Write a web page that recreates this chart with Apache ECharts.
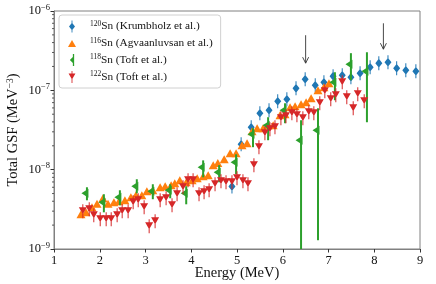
<!DOCTYPE html>
<html><head><meta charset="utf-8">
<script src="https://cdn.jsdelivr.net/npm/echarts@6/dist/echarts.min.js"></script>
<style>html,body{margin:0;padding:0;background:#fff}#c{width:436px;height:284px}</style>
</head><body><div id="c"></div>
<script>
// ---- data ----
const isotopes = ['120', '116', '118', '122'];
const refs = ['Krumbholz et al.', 'Agvaanluvsan et al.', 'Toft et al.', 'Toft et al.'];
const seriesNames = isotopes.map((iso, i) => iso + 'Sn (' + refs[i] + ')');

const sn120E = [4.89,5.09,5.31,5.50,5.70,5.89,6.09,6.29,6.49,6.71,6.90,7.10,7.30,7.49,7.69,7.91,8.10,8.30,8.49,8.69,8.91];
const sn120V = [6.15e-9,2.09e-8,3.43e-8,5.14e-8,5.62e-8,7.28e-8,7.72e-8,1.06e-7,1.38e-7,1.16e-7,1.26e-7,1.51e-7,1.55e-7,1.46e-7,1.64e-7,1.95e-7,2.20e-7,2.26e-7,1.90e-7,1.79e-7,1.74e-7];

const sn116E = [1.59,1.70,1.83,1.94,2.07,2.18,2.31,2.42,2.55,2.68,2.79,2.92,3.03,3.16,3.32,3.43,3.56,3.64,3.75,3.89,4.02,4.13,4.26,4.37,4.48,4.58,4.72,4.85,4.98,5.11,5.22,5.33,5.44,5.57,5.68,5.79,5.94,6.05,6.16,6.27,6.40,6.51,6.62,6.77,6.90,7.01];
const sn116V = [2.74e-9,2.90e-9,3.36e-9,3.72e-9,4.36e-9,3.72e-9,3.88e-9,4.0e-9,4.11e-9,4.49e-9,4.76e-9,4.76e-9,5.34e-9,5.5e-9,6.0e-9,6.18e-9,6.36e-9,6.74e-9,7.35e-9,6.94e-9,7.35e-9,7.79e-9,8.26e-9,8.5e-9,1.14e-8,1.21e-8,1.35e-8,1.61e-8,1.61e-8,2.03e-8,2.15e-8,3.05e-8,3.33e-8,3.33e-8,3.63e-8,3.63e-8,4.85e-8,5.0e-8,6.12e-8,6.3e-8,6.68e-8,7.1e-8,7.96e-8,1.0e-7,1.09e-7,1.23e-7];

const sn118E  = [1.72,2.09,2.44,2.81,3.16,3.54,3.89,4.26,4.61,4.98,5.35,5.68,6.05,6.40,6.77,7.14,7.49,7.84];
const sn118V  = [5.04e-9,3.88e-9,4.49e-9,6.18e-9,5.34e-9,5.50e-9,5.04e-9,1.07e-8,9.27e-9,1.24e-8,2.79e-8,3.63e-8,5.62e-8,2.35e-8,3.14e-8,1.26e-7,2.13e-7,1.74e-7];
const sn118Lo = [4.11e-9,2.90e-9,3.56e-9,5.04e-9,4.24e-9,4.36e-9,3.66e-9,8.02e-9,6.94e-9,8.75e-9,1.92e-8,2.35e-8,3.85e-8,1e-10,1.29e-9,7.50e-8,1.34e-7,3.96e-8];
const sn118Hi = [6.0e-9,4.90e-9,5.50e-9,7.57e-9,6.55e-9,6.55e-9,6.18e-9,1.31e-8,1.14e-8,1.56e-8,3.33e-8,4.58e-8,6.87e-8,4.20e-8,5.94e-8,1.69e-7,2.94e-7,3.02e-7];

const sn122E = [1.63,1.77,1.87,2.01,2.14,2.25,2.38,2.49,2.62,2.73,2.84,2.97,3.08,3.21,3.32,3.45,3.58,3.69,3.82,3.93,4.04,4.17,4.28,4.39,4.52,4.65,4.76,4.89,5.00,5.13,5.24,5.37,5.48,5.61,5.72,5.83,5.96,6.07,6.20,6.31,6.44,6.57,6.68,6.81,6.92,7.05,7.16,7.30,7.40,7.54,7.64,7.78];
const sn122V = [2.99e-9,3.17e-9,2.66e-9,2.37e-9,2.37e-9,2.37e-9,2.66e-9,2.99e-9,2.99e-9,3.88e-9,4.11e-9,3.36e-9,1.93e-9,2.23e-9,4.11e-9,4.36e-9,3.56e-9,4.90e-9,6.0e-9,7.35e-9,7.35e-9,4.90e-9,5.19e-9,5.50e-9,6.55e-9,7.14e-9,6.94e-9,6.94e-9,7.79e-9,7.14e-9,6.55e-9,1.14e-8,1.92e-8,2.88e-8,3.23e-8,3.43e-8,4.45e-8,4.72e-8,5.14e-8,4.85e-8,4.45e-8,5.30e-8,5.14e-8,6.87e-8,9.75e-8,7.72e-8,8.67e-8,1.26e-7,8.19e-8,5.94e-8,8.93e-8,7.28e-8];

// annotation arrows: [energy, y start, y end]
const arrowE = [6.5, 8.2];
const arrowFrom = [4.95e-7, 7.0e-7];
const arrowTo = [2.2e-7, 3.3e-7];

const xTicks = [1,2,3,4,5,6,7,8,9];
const yMinorTicks = [2e-9,3e-9,4e-9,5e-9,6e-9,7e-9,8e-9,9e-9,2e-8,3e-8,4e-8,5e-8,6e-8,7e-8,8e-8,9e-8,2e-7,3e-7,4e-7,5e-7,6e-7,7e-7,8e-7,9e-7];

// ---- styles ----
const FONT = '"Liberation Serif", "DejaVu Serif", serif';
const C = ['#1f77b4', '#ff7f0e', '#2ca02c', '#d62728'];
const SYM_DIAMOND = 'path://M3,0 H4 V3.2 L7,7 L4,10.8 V14 H3 V10.8 L0,7 L3,3.2 Z';
const SYM_TRI_DOWN = 'path://M3.5,0 H4.5 V3 H8 L4.5,9.1 V14 H3.5 V9.1 L0,3 H3.5 Z';
const SYM_TRI_UP = 'triangle';
const SYM_TRI_LEFT = 'path://M0,5 L7,1 L7,9 Z';
const SYM_118_LEG = 'path://M3.5,0 H5 V14 H3.5 V10.5 L0,7 L3.5,3.5 Z';
const SYM_116_LEG = 'path://M4,0 L8,7 L0,7 Z';

const chart = echarts.init(document.getElementById('c'), null, {renderer: 'canvas'});

const option = {
  animation: false,
  backgroundColor: '#fff',
  grid: {left: 54, right: 16, top: 11, bottom: 35, show: true, borderColor: '#808080', borderWidth: 1,
         containLabel: false, outerBoundsMode: 'none'},
  legend: {
    orient: 'vertical', left: 59, top: 15,
    padding: [5, 8, 5, 9], itemGap: 4.5, itemWidth: 8, itemHeight: 12,
    backgroundColor: 'rgba(255,255,255,0.8)', borderColor: '#d0d0d0', borderWidth: 1, borderRadius: 3,
    data: [
      {name: seriesNames[0], icon: SYM_DIAMOND},
      {name: seriesNames[1], icon: SYM_116_LEG},
      {name: seriesNames[2], icon: SYM_118_LEG},
      {name: seriesNames[3], icon: SYM_TRI_DOWN}
    ],
    formatter: function (name) {
      const i = seriesNames.indexOf(name);
      return '{sup|' + isotopes[i] + '}{txt|Sn (' + refs[i] + ')}';
    },
    textStyle: {
      fontFamily: FONT, color: '#111', padding: [0, 0, 0, 9],
      rich: {
        sup: {fontFamily: FONT, fontSize: 7.5, color: '#111', padding: [0, 0, 5, 0]},
        txt: {fontFamily: FONT, fontSize: 11.3, color: '#111'}
      }
    }
  },
  xAxis: {
    type: 'value', min: 1, max: 9, interval: 1,
    name: 'Energy (MeV)', nameLocation: 'middle', nameGap: 17, nameMoveOverlap: false,
    nameTextStyle: {fontFamily: FONT, fontSize: 14.5, color: '#111'},
    axisLine: {show: true, lineStyle: {color: '#808080', width: 1}},
    axisTick: {show: true, inside: false, length: 3.5, lineStyle: {color: '#333'}},
    axisLabel: {fontFamily: FONT, fontSize: 12.5, color: '#111', margin: 5,
      formatter: v => xTicks.indexOf(v) >= 0 ? String(v) : ''},
    splitLine: {show: false}
  },
  yAxis: {
    type: 'log', logBase: 10, min: 1e-9, max: 1e-6,
    name: '{t|Total GSF (MeV}{s|−3}{t|)}', nameLocation: 'middle', nameGap: 32, nameRotate: 90, nameMoveOverlap: false,
    nameTextStyle: {fontFamily: FONT, color: '#111',
      rich: {t: {fontFamily: FONT, fontSize: 14.5, color: '#111'},
             s: {fontFamily: FONT, fontSize: 9.5, color: '#111', padding: [0, 0, 7, 0]}}},
    axisLine: {show: true, lineStyle: {color: '#808080', width: 1}},
    axisTick: {show: true, inside: false, length: 3.5, lineStyle: {color: '#333'}},
    axisLabel: {fontFamily: FONT, color: '#111', margin: 4,
      formatter: function (v) {
        const e = Math.round(Math.log10(v));
        return '{b|10}{s|−' + Math.abs(e) + '}';
      },
      rich: {b: {fontFamily: FONT, fontSize: 12.5, color: '#111'},
             s: {fontFamily: FONT, fontSize: 8.5, color: '#111', padding: [0, 0, 7, 0]}}},
    splitLine: {show: false}
  },
  series: [
    {
      type: 'custom', silent: true, clip: false, z: 1,
      data: yMinorTicks.map(v => [xTicks[0], v]),
      renderItem: function (params, api) {
        const p = api.coord([api.value(0), api.value(1)]);
        return {type: 'line', shape: {x1: p[0] - 2, y1: p[1], x2: p[0], y2: p[1]}, style: {stroke: '#333', lineWidth: 0.8}};
      }
    },
    {
      name: seriesNames[0], type: 'scatter', symbol: SYM_DIAMOND, symbolSize: [7, 14], z: 2,
      itemStyle: {color: C[0], opacity: 1},
      data: sn120E.map((e, i) => [e, sn120V[i]])
    },
    {
      name: seriesNames[1], type: 'scatter', symbol: SYM_TRI_UP, symbolSize: [9, 8], z: 3,
      itemStyle: {color: C[1], opacity: 1},
      data: sn116E.map((e, i) => [e, sn116V[i]])
    },
    {
      type: 'custom', silent: true, clip: true, z: 4,
      data: sn118E.map((e, i) => [e, sn118Lo[i], sn118Hi[i]]),
      renderItem: function (params, api) {
        const a = api.coord([api.value(0), api.value(1)]);
        const b = api.coord([api.value(0), api.value(2)]);
        return {type: 'line', shape: {x1: a[0], y1: a[1], x2: b[0], y2: b[1]}, style: {stroke: C[2], lineWidth: 2}};
      }
    },
    {
      name: seriesNames[2], type: 'scatter', symbol: SYM_TRI_LEFT, symbolSize: [7, 9], symbolOffset: [-2, 0], z: 5,
      itemStyle: {color: C[2], opacity: 1},
      data: sn118E.map((e, i) => [e, sn118V[i]])
    },
    {
      name: seriesNames[3], type: 'scatter', symbol: SYM_TRI_DOWN, symbolSize: [8, 14], z: 6,
      itemStyle: {color: C[3], opacity: 1},
      data: sn122E.map((e, i) => [e, sn122V[i]])
    },
    {
      type: 'custom', silent: true, clip: false, z: 7,
      data: arrowE.map((e, i) => [e, arrowFrom[i], arrowTo[i]]),
      renderItem: function (params, api) {
        const a = api.coord([api.value(0), api.value(1)]);
        const b = api.coord([api.value(0), api.value(2)]);
        return {type: 'group', children: [
          {type: 'line', shape: {x1: a[0], y1: a[1], x2: b[0], y2: b[1]}, style: {stroke: '#333', lineWidth: 0.9}},
          {type: 'polyline', shape: {points: [[b[0] - 3, b[1] - 6], [b[0], b[1]], [b[0] + 3, b[1] - 6]]}, style: {stroke: '#333', lineWidth: 0.9, fill: null}}
        ]};
      }
    }
  ]
};
chart.setOption(option);
</script>
</body></html>
